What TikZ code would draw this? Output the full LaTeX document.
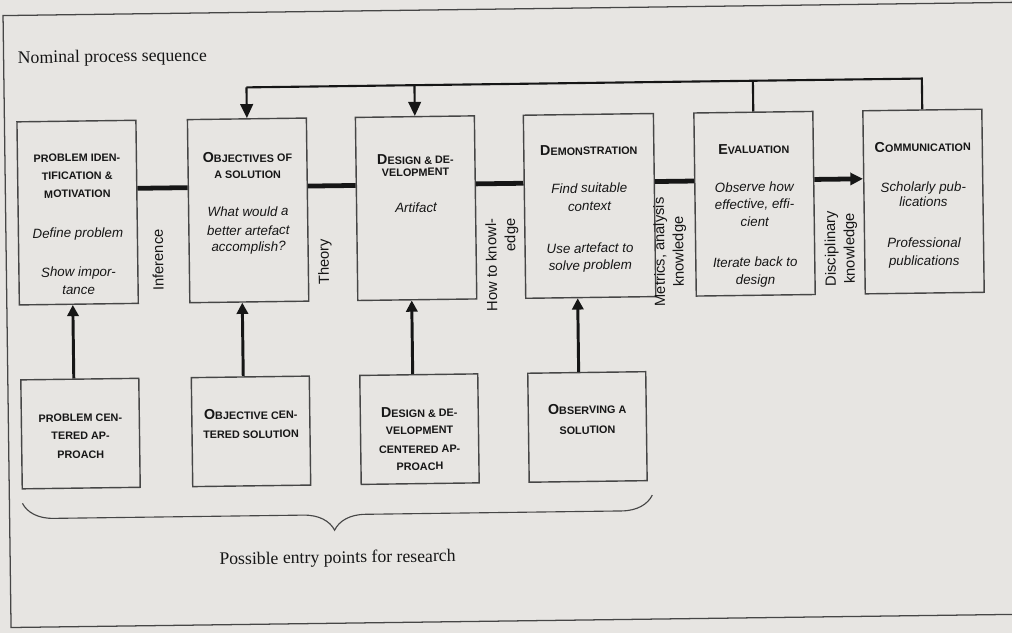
\documentclass[tikz,border=0pt]{standalone}
\usepackage{fontspec}
\setmainfont{Liberation Serif}
\setsansfont{Liberation Sans}
\usetikzlibrary{arrows.meta,calc,decorations.pathreplacing}

\definecolor{paper}{RGB}{231,229,226}
\definecolor{ink}{RGB}{22,22,22}
\definecolor{rule}{RGB}{70,70,70}

% larger initial capital for the fake small-caps headings
\newcommand\capA[1]{{\fontsize{10.2pt}{10pt}\selectfont #1}}

\tikzset{
  stage/.style={draw=rule, line width=1pt, minimum width=84.6pt, minimum height=130.2pt, inner sep=0pt},
  entry/.style={draw=rule, line width=1pt, minimum width=83.9pt, minimum height=77.5pt, inner sep=0pt},
  title/.style={font=\sffamily\bfseries\fontsize{7.7pt}{8pt}\selectfont, text=ink, anchor=mid, inner sep=0pt},
  body/.style={font=\sffamily\itshape\fontsize{9.5pt}{11pt}\selectfont, text=ink, anchor=mid, inner sep=0pt},
  side/.style={font=\sffamily\fontsize{10.5pt}{13.5pt}\selectfont, text=ink, rotate=90, align=center, inner sep=0pt},
  serif/.style={font=\rmfamily\fontsize{12.6pt}{14pt}\selectfont, text=ink, inner sep=0pt},
  mainline/.style={draw=ink, line width=3.4pt},
  upline/.style={draw=ink, line width=2.1pt, -{Triangle[length=8pt,width=8pt]}},
  backline/.style={draw=ink, line width=1.5pt},
  backarrow/.style={backline, -{Triangle[length=10pt,width=9pt]}},
  frame/.style={draw=rule, line width=0.9pt},
  bracket/.style={draw=rule, line width=0.8pt, decorate,
    decoration={brace, mirror, amplitude=22pt, aspect=0.495}},
}

\begin{document}
\begin{tikzpicture}[x=0.025cm, y=-0.025cm]
\useasboundingbox (0,0) rectangle (1012,633);
\fill[paper] (0,0) rectangle (1012,633);
\clip (0,0) rectangle (1012,633);

\begin{scope}[rotate around={0.75:(506,316)}, transform shape]

% outer frame (open on the right)
\draw[frame] (1100,9) -- (7,9) -- (7,621) -- (1100,621);

\node[serif, anchor=base west] (nominal) at (21,57) {Nominal process sequence};

% process stages
\node[stage] (b1) at (79,207) {};
\node[stage] (b2) at (249.5,207) {};
\node[stage] (b3) at (417.5,207) {};
\node[stage, minimum width=92.5pt] (b4) at (591,207) {};
\node[stage] (b5) at (756,207) {};
\node[stage] (b6) at (925,207) {};

% entry points
\node[entry] (bA) at (79,428) {};
\node[entry] (bB) at (249.5,428) {};
\node[entry] (bC) at (418,428) {};
\node[entry] (bD) at (586,428) {};

% stage texts
\node[title] (b1t1) at ($(b1.north)+(0,38)$) {PROBLEM IDEN-};
\node[title] (b1t2) at ($(b1.north)+(0,56)$) {TIFICATION \&};
\node[title] (b1t3) at ($(b1.north)+(0,74)$) {MOTIVATION};
\node[body]  (b1d1) at ($(b1.north)+(0,114)$) {Define problem};
\node[body]  (b1d2) at ($(b1.north)+(0,153)$) {Show impor-};
\node[body]  (b1d3) at ($(b1.north)+(0,171)$) {tance};

\node[title] (b2t1) at ($(b2.north)+(0,41)$) {\capA{O}BJECTIVES OF};
\node[title] (b2t2) at ($(b2.north)+(0,57)$) {A SOLUTION};
\node[body]  (b2d1) at ($(b2.north)+(0,95)$) {What would a};
\node[body]  (b2d2) at ($(b2.north)+(0,114)$) {better artefact};
\node[body]  (b2d3) at ($(b2.north)+(0,130)$) {accomplish?};

\node[title] (b3t1) at ($(b3.north)+(0,45)$) {\capA{D}ESIGN \& DE-};
\node[title] (b3t2) at ($(b3.north)+(0,57)$) {VELOPMENT};
\node[body]  (b3d1) at ($(b3.north)+(0,93)$) {Artifact};

\node[title] (b4t1) at ($(b4.north)+(0,38)$) {\capA{D}EMONSTRATION};
\node[body]  (b4d1) at ($(b4.north)+(0,76)$) {Find suitable};
\node[body]  (b4d2) at ($(b4.north)+(0,94)$) {context};
\node[body]  (b4d3) at ($(b4.north)+(0,136)$) {Use artefact to};
\node[body]  (b4d4) at ($(b4.north)+(0,153)$) {solve problem};

\node[title] (b5t1) at ($(b5.north)+(0,39)$) {\capA{E}VALUATION};
\node[body]  (b5d1) at ($(b5.north)+(0,77)$) {Observe how};
\node[body]  (b5d2) at ($(b5.north)+(0,94)$) {effective, effi-};
\node[body]  (b5d3) at ($(b5.north)+(0,112)$) {cient};
\node[body]  (b5d4) at ($(b5.north)+(0,152)$) {Iterate back to};
\node[body]  (b5d5) at ($(b5.north)+(0,170)$) {design};

\node[title] (b6t1) at ($(b6.north)+(0,39)$) {\capA{C}OMMUNICATION};
\node[body]  (b6d1) at ($(b6.north)+(0,79)$) {Scholarly pub-};
\node[body]  (b6d2) at ($(b6.north)+(0,94)$) {lications};
\node[body]  (b6d3) at ($(b6.north)+(0,135)$) {Professional};
\node[body]  (b6d4) at ($(b6.north)+(0,153)$) {publications};

% entry point texts
\node[title] (bAt1) at ($(bA.north)+(0,40)$) {PROBLEM CEN-};
\node[title] (bAt2) at ($(bA.north)+(0,58)$) {TERED AP-};
\node[title] (bAt3) at ($(bA.north)+(0,77)$) {PROACH};

\node[title] (bBt1) at ($(bB.north)+(0,40)$) {\capA{O}BJECTIVE CEN-};
\node[title] (bBt2) at ($(bB.north)+(0,59)$) {TERED SOLUTION};

\node[title] (bCt1) at ($(bC.north)+(0,40)$) {\capA{D}ESIGN \& DE-};
\node[title] (bCt2) at ($(bC.north)+(0,57)$) {VELOPMENT};
\node[title] (bCt3) at ($(bC.north)+(0,76)$) {CENTERED AP-};
\node[title] (bCt4) at ($(bC.north)+(0,93)$) {PROACH};

\node[title] (bDt1) at ($(bD.north)+(0,39)$) {\capA{O}BSERVING A};
\node[title] (bDt2) at ($(bD.north)+(0,59)$) {SOLUTION};

% knowledge labels between the stages
\node[side] (inf)  at (158.7,255.5) {Inference};
\node[side] (thy)  at (325.7,259.6) {Theory};
\node[side, align=right] (how) at (503,265) {How to knowl-\\edge};
\node[side] (met)  at (671,254) {Metrics, analysis\\knowledge};
\node[side] (dis)  at (842,253) {Disciplinary\\knowledge};

% nominal sequence
\coordinate (ml) at (0,183.5);
\draw[mainline] (b1.east |- ml) -- (b2.west |- ml);
\draw[mainline] (b2.east |- ml) -- (b3.west |- ml);
\draw[mainline] (b3.east |- ml) -- (b4.west |- ml);
\draw[mainline] (b4.east |- ml) -- (b5.west |- ml);
\draw[mainline, -{Triangle[length=9pt,width=8.5pt]}] (b5.east |- ml) -- (b6.west |- ml);

% iteration paths back to earlier stages
\coordinate (fb) at (0,84);
\draw[backline, line join=miter] (b6.north) -- (b6.north |- fb) -- (b2.north |- fb);
\draw[backline] (b5.north) -- (b5.north |- fb);
\draw[backarrow] (b2.north |- fb) -- (b2.north);
\draw[backarrow] (b3.north |- fb) -- (b3.north);

% entry point arrows
\coordinate (pA) at ($(bA.north)+(-6,0)$);
\coordinate (pB) at ($(bB.north)+(-7,0)$);
\coordinate (pC) at ($(bC.north)+(-6,0)$);
\coordinate (pD) at ($(bD.north)+(-8,0)$);
\draw[upline] (pA) -- (pA |- b1.south);
\draw[upline] (pB) -- (pB |- b2.south);
\draw[upline] (pC) -- (pC |- b3.south);
\draw[upline] (pD) -- (pD |- b4.south);

% brace under the entry points
\coordinate (brl) at (20,497);
\coordinate (brr) at (650,497);
\draw[bracket] (brl) -- (brr);
\node[serif, anchor=base west] (possible) at (216,561) {Possible entry points for research};

\end{scope}
\end{tikzpicture}
\end{document}
